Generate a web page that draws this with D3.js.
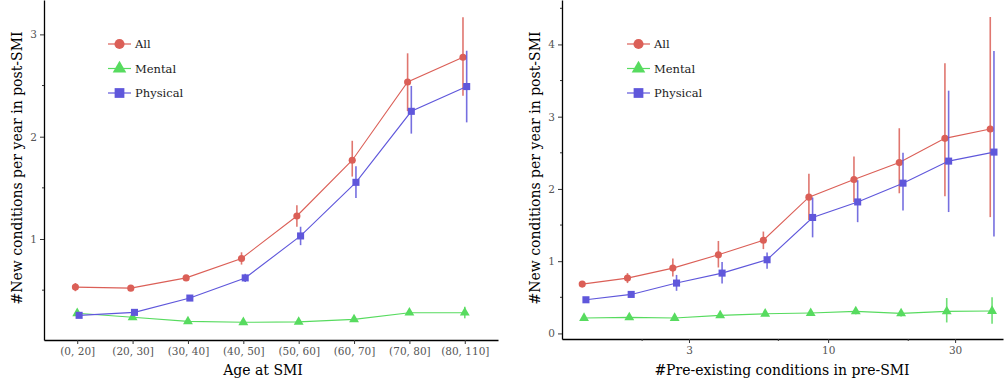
<!DOCTYPE html>
<html>
<head>
<meta charset="utf-8">
<script src="https://cdn.jsdelivr.net/npm/d3@7"></script>
<style>
  body { margin: 0; background: #fff; }
  svg { display: block; font-family: "DejaVu Serif", serif; }
</style>
</head>
<body>
<svg id="chart" width="1008" height="385"></svg>
<script>
// ---- data: left panel (age at SMI) ----
var ageBins = ["(0, 20]", "(20, 30]", "(30, 40]", "(40, 50]", "(50, 60]", "(60, 70]", "(70, 80]", "(80, 110]"];
var ageAll      = [0.53, 0.52, 0.62, 0.81, 1.225, 1.77, 2.535, 2.776];
var ageAllLo    = [0.49, 0.50, 0.60, 0.75, 1.12, 1.61, 2.25, 2.40];
var ageAllHi    = [0.57, 0.54, 0.64, 0.87, 1.33, 1.96, 2.815, 3.167];
var ageMental   = [0.274, 0.235, 0.195, 0.186, 0.19, 0.215, 0.28, 0.28];
var ageMentalLo = [0.26, 0.225, 0.185, 0.176, 0.18, 0.205, 0.26, 0.225];
var ageMentalHi = [0.29, 0.245, 0.205, 0.196, 0.20, 0.225, 0.30, 0.338];
var agePhys     = [0.254, 0.283, 0.423, 0.62, 1.03, 1.554, 2.248, 2.49];
var agePhysLo   = [0.235, 0.27, 0.405, 0.58, 0.94, 1.40, 2.03, 2.14];
var agePhysHi   = [0.275, 0.30, 0.44, 0.66, 1.12, 1.71, 2.496, 2.84];

// ---- data: right panel (pre-existing conditions, log x) ----
var preX        = [1.21, 1.79, 2.65, 3.93, 5.8, 8.6, 12.7, 18.8, 27.9, 41.3];
var preAll      = [0.683, 0.766, 0.904, 1.088, 1.29, 1.886, 2.13, 2.365, 2.70, 2.83];
var preAllLo    = [0.65, 0.697, 0.788, 0.913, 1.167, 1.57, 1.82, 1.94, 1.90, 1.61];
var preAllHi    = [0.72, 0.835, 1.037, 1.28, 1.41, 2.21, 2.45, 2.84, 3.74, 4.38];
var preMental   = [0.213, 0.222, 0.213, 0.25, 0.272, 0.282, 0.305, 0.277, 0.305, 0.31];
var preMentalLo = [0.195, 0.205, 0.195, 0.225, 0.245, 0.25, 0.265, 0.235, 0.152, 0.134];
var preMentalHi = [0.23, 0.24, 0.23, 0.275, 0.30, 0.315, 0.345, 0.32, 0.49, 0.50];
var prePhys     = [0.466, 0.54, 0.697, 0.835, 1.02, 1.605, 1.82, 2.08, 2.385, 2.51];
var prePhysLo   = [0.44, 0.51, 0.59, 0.69, 0.895, 1.33, 1.54, 1.70, 1.68, 1.34];
var prePhysHi   = [0.49, 0.57, 0.81, 0.99, 1.12, 1.88, 2.12, 2.50, 3.36, 3.91];

var seriesNames = ["All", "Mental", "Physical"];
var seriesColors = ["#db5f57", "#57db5f", "#5f57db"];
var seriesShapes = [d3.symbolCircle, d3.symbolTriangle, d3.symbolSquare];
var dodge = [-1.8, 0, 1.9];

var leftYTicks = [1, 2, 3];
var leftYMinor = [0.5, 1.5, 2.5];
var rightYTicks = [0, 1, 2, 3, 4];
var rightYMinor = [0.5, 1.5, 2.5, 3.5, 4.5];
var rightXTicks = [3, 10, 30];
var rightXMinor = [2, 6.5, 20];

var svg = d3.select("#chart");
var tickColor = "#555";

function drawSeries(g, xs, ys, lo, hi, xf, y, k) {
    var col = seriesColors[k];
    var pts = xs.map(function(d, i){ return {x: xf(d) + dodge[k], y: ys[i], lo: lo[i], hi: hi[i]}; });
    g.append("path")
        .datum(pts)
        .attr("fill", "none")
        .attr("stroke", col)
        .attr("stroke-width", 1.1)
        .attr("d", d3.line().x(function(d){ return d.x; }).y(function(d){ return y(d.y); }));
    g.selectAll(null).data(pts).enter().append("line")
        .attr("x1", function(d){ return d.x; }).attr("x2", function(d){ return d.x; })
        .attr("y1", function(d){ return y(d.lo); }).attr("y2", function(d){ return y(d.hi); })
        .attr("stroke", col).attr("stroke-width", 1.6).attr("opacity", 0.85);
    var size = [40, 42, 50][k];
    g.selectAll(null).data(pts).enter().append("path")
        .attr("transform", function(d){ return "translate(" + d.x + "," + y(d.y) + ")"; })
        .attr("d", d3.symbol().type(seriesShapes[k]).size(size))
        .attr("fill", col);
}

function drawLegend(g, x0, y0) {
    seriesNames.forEach(function(name, k){
        var yy = y0 + k * 24.5;
        g.append("line").attr("x1", x0).attr("x2", x0 + 23).attr("y1", yy).attr("y2", yy)
            .attr("stroke", seriesColors[k]).attr("stroke-width", 1.2);
        g.append("path").attr("transform", "translate(" + (x0 + 11.5) + "," + yy + ")")
            .attr("d", d3.symbol().type(seriesShapes[k]).size([80, 80, 95][k]))
            .attr("fill", seriesColors[k]);
        g.append("text").attr("x", x0 + 27).attr("y", yy).attr("dy", "0.35em")
            .attr("font-size", 11.5).attr("fill", "#1a1a1a").text(name);
    });
}

function styleAxis(a) {
    a.select(".domain").attr("stroke", "#000").attr("stroke-width", 1.3);
    a.selectAll(".tick line").attr("stroke", "#333");
    a.selectAll(".tick text").attr("fill", tickColor).attr("font-size", 10.5)
        .attr("font-family", "DejaVu Serif");
}

// ---------------- left panel ----------------
var L = {left: 44, right: 498, top: 0, bottom: 340};
var xL = d3.scalePoint().domain(ageBins).range([L.left, L.right]).padding(0.6);
var yL = d3.scaleLinear().domain([0.013, 3.336]).range([L.bottom, L.top]);
var gL = svg.append("g");

var axL = gL.append("g").attr("transform", "translate(0," + L.bottom + ")")
    .call(d3.axisBottom(xL).tickSize(4).tickSizeOuter(0).tickPadding(4));
styleAxis(axL);
var ayL = gL.append("g").attr("transform", "translate(" + L.left + ",0)")
    .call(d3.axisLeft(yL).tickValues(leftYTicks).tickFormat(d3.format("d")).tickSize(4).tickSizeOuter(0).tickPadding(3));
styleAxis(ayL);
gL.append("g").selectAll("line").data(leftYMinor).enter().append("line")
    .attr("x1", L.left - 2).attr("x2", L.left).attr("y1", function(d){ return yL(d); }).attr("y2", function(d){ return yL(d); })
    .attr("stroke", "#333");

var leftData = [[ageAll, ageAllLo, ageAllHi], [ageMental, ageMentalLo, ageMentalHi], [agePhys, agePhysLo, agePhysHi]];
leftData.forEach(function(s, k){ drawSeries(gL, ageBins, s[0], s[1], s[2], xL, yL, k); });
drawLegend(gL, 108, 44);

gL.append("text").attr("x", (L.left + L.right) / 2 - 8).attr("y", 375).attr("text-anchor", "middle")
    .attr("font-size", 14).attr("fill", "#000").text("Age at SMI");
gL.append("text").attr("transform", "translate(22," + 168 + ") rotate(-90)").attr("text-anchor", "middle")
    .attr("font-size", 14).attr("fill", "#000").text("#New conditions per year in post-SMI");

// ---------------- right panel ----------------
var R = {left: 562, right: 1003, top: 0, bottom: 339};
var xR = d3.scaleLog().domain([1.0, 45.4]).range([R.left, R.right]);
var yR = d3.scaleLinear().domain([-0.077, 4.615]).range([R.bottom, R.top]);
var gR = svg.append("g");

var axR = gR.append("g").attr("transform", "translate(0," + R.bottom + ")")
    .call(d3.axisBottom(xR).tickValues(rightXTicks).tickFormat(d3.format("d")).tickSize(4).tickSizeOuter(0).tickPadding(4));
styleAxis(axR);
gR.append("g").selectAll("line").data(rightXMinor).enter().append("line")
    .attr("x1", function(d){ return xR(d); }).attr("x2", function(d){ return xR(d); })
    .attr("y1", R.bottom).attr("y2", R.bottom + 2).attr("stroke", "#333");
var ayR = gR.append("g").attr("transform", "translate(" + R.left + ",0)")
    .call(d3.axisLeft(yR).tickValues(rightYTicks).tickFormat(d3.format("d")).tickSize(4).tickSizeOuter(0).tickPadding(3));
styleAxis(ayR);
gR.append("g").selectAll("line").data(rightYMinor).enter().append("line")
    .attr("x1", R.left - 2).attr("x2", R.left).attr("y1", function(d){ return yR(d); }).attr("y2", function(d){ return yR(d); })
    .attr("stroke", "#333");

var rightData = [[preAll, preAllLo, preAllHi], [preMental, preMentalLo, preMentalHi], [prePhys, prePhysLo, prePhysHi]];
rightData.forEach(function(s, k){ drawSeries(gR, preX, s[0], s[1], s[2], xR, yR, k); });
drawLegend(gR, 627, 44);

gR.append("text").attr("x", 782).attr("y", 375).attr("text-anchor", "middle")
    .attr("font-size", 14).attr("fill", "#000").text("#Pre-existing conditions in pre-SMI");
gR.append("text").attr("transform", "translate(540," + 168 + ") rotate(-90)").attr("text-anchor", "middle")
    .attr("font-size", 14).attr("fill", "#000").text("#New conditions per year in post-SMI");
</script>
</body>
</html>
